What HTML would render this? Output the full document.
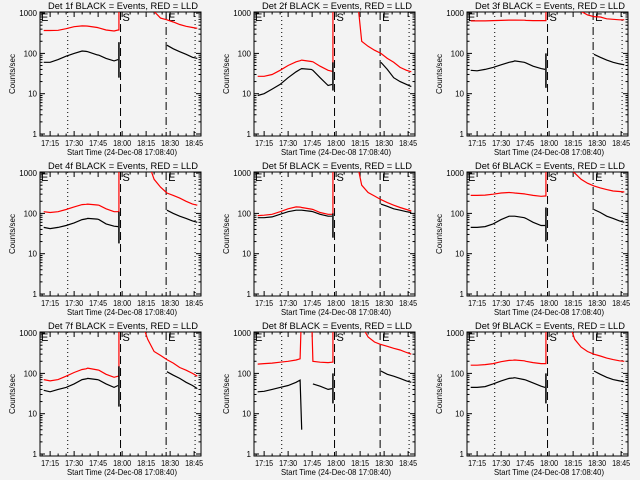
<!DOCTYPE html>
<html><head><meta charset="utf-8"><style>
html,body{margin:0;padding:0;background:#f3f3f3;}
svg{display:block;font-family:"Liberation Sans",sans-serif;}
</style></head><body>
<svg id="chart" width="640" height="480">
<rect width="640" height="480" fill="#f3f3f3"/>
</svg>
<script>
const preTimes=[11,15,20,25,30,35,37.5,38.5,44.5,45.5,50,55,57.5];
const postBlackTimes=[88,92,96,100,104,107];
const postRedTimes=[74,76,80,84,88,92,96,100,104,107];
const detectorNames=["1f","2f","3f","4f","5f","6f","7f","8f","9f"];
const blackPre=[
[60,60,70,85,100,115,112,110,92,90,75,65,70],
[9,10,13,17,25,35,40,42,40,38,25,16,17],
[38,37,40,45,52,60,63,65,60,58,48,42,40],
[45,42,45,50,58,70,73,75,72,70,55,48,47],
[78,78,82,95,110,120,120,120,112,110,95,85,85],
[45,45,47,55,70,85,85,85,78,75,60,50,50],
[38,35,40,45,55,70,73,75,70,68,55,45,50],
[35,36,40,45,50,60,68,4,null,55,48,40,42],
[45,45,47,55,65,75,77,78,70,68,58,48,45]];
const redPre=[
[370,370,375,410,460,480,478,475,440,430,380,360,380],
[27,27,30,38,50,62,66,68,63,62,48,38,36],
[640,640,640,650,660,670,670,670,665,660,650,650,650],
[110,105,110,125,145,165,168,170,162,160,130,110,110],
[88,90,95,110,130,145,143,140,128,125,105,95,95],
[280,280,285,300,320,330,325,320,305,300,280,265,270],
[70,65,70,85,105,125,130,135,122,120,95,80,85],
[170,175,180,190,200,215,230,5000,5000,200,190,185,190],
[160,160,165,175,195,210,212,215,205,200,185,175,175]];
const spikeLo=[25,12,14,18,25,20,15,18,18];
const spikeHi=[190,60,100,110,100,140,150,100,100];
const blackPost=[
[160,130,110,95,80,75],[60,40,25,20,17,15],[95,80,68,60,55,52],
[120,100,85,75,65,60],[170,150,130,120,110,105],[125,105,85,75,65,60],
[110,90,75,60,50,42],[115,95,85,75,65,60],[115,95,80,70,65,62]];
const redPost=[
[3000,3000,1100,750,680,600,520,470,440,420],
[1200,200,150,120,100,75,60,45,38,35],
[3000,3000,1100,900,820,800,720,700,680,680],
[3000,2000,700,450,320,280,240,200,170,160],
[1200,500,330,270,220,185,160,140,125,115],
[1200,1000,700,560,480,430,390,360,350,340],
[1200,700,350,280,220,180,140,120,100,85],
[3000,1500,800,600,520,470,420,380,330,300],
[1200,700,450,350,300,270,240,220,205,200]];
const xTickTimes=[15,30,45,60,75,90,105];
const xTickLabels=["17:15","17:30","17:45","18:00","18:15","18:30","18:45"];
const yTickVals=[1,10,100,1000];
const yTickLabels=["1","10","100","1000"];
const spikeTime=58, dot1=26, dashT=59, eT=87.5, dot2=105.6;

const NS="http://www.w3.org/2000/svg";
const svg=document.getElementById("chart");
const colOff=[0,214,427], rowOff=[0,160,320];
const L=40,R=201,T=12,B=136;
function mk(tag,attrs,parent){const e=document.createElementNS(NS,tag);for(const k in attrs)e.setAttribute(k,attrs[k]);(parent||svg).appendChild(e);return e;}

for(let p=0;p<9;p++){
  const ox=colOff[p%3], oy=rowOff[Math.floor(p/3)];
  const xs=t=>ox+L+(t-8.67)*1.6;
  const ys=v=>oy+134-40.3*Math.log10(v);
  const g=mk("g",{});
  
  
  const cp=mk("clipPath",{id:"c"+p},g);
  mk("rect",{x:ox+L,y:oy+T,width:R-L,height:B-T},cp);
  const title=mk("text",{x:ox+123,y:oy+9,"text-anchor":"middle","font-size":"9.5",textLength:"150",lengthAdjust:"spacingAndGlyphs"},g);
  title.textContent="Det "+detectorNames[p]+" BLACK = Events, RED = LLD";
  
  
  const frame=mk("rect",{x:ox+L,y:oy+T,width:R-L,height:B-T,fill:"none",stroke:"#000","stroke-width":"1"},g);
  
  
  for(let d=0;d<4;d++){
    for(let m=1;m<10;m++){
      const v=yTickVals[d]*m; if(v>1100)break;
      const y=ys(v), len=m==1?5:2.5;
      mk("line",{x1:ox+L,x2:ox+L+len,y1:y,y2:y,stroke:"#000"},g);
      mk("line",{x1:ox+R,x2:ox+R-len,y1:y,y2:y,stroke:"#000"},g);
    }
    const tl=mk("text",{x:ox+L-3,y:ys(yTickVals[d])+3,"text-anchor":"end","font-size":"8"},g);
    tl.textContent=yTickLabels[d];
    
    
  }
  for(let t=10;t<=109;t+=5){
    const major=(t%15===0), x=xs(t), len=major?5:2.5;
    mk("line",{x1:x,x2:x,y1:oy+B,y2:oy+B-len,stroke:"#000"},g);
    mk("line",{x1:x,x2:x,y1:oy+T,y2:oy+T+len,stroke:"#000"},g);
  }
  xTickTimes.forEach((t,i)=>{
    const tl=mk("text",{x:xs(t),y:oy+146,"text-anchor":"middle","font-size":"8",textLength:"18",lengthAdjust:"spacingAndGlyphs"},g);
    tl.textContent=xTickLabels[i];
    
    
  });
  const xt=mk("text",{x:ox+122,y:oy+155,"text-anchor":"middle","font-size":"8.5",textLength:"110",lengthAdjust:"spacingAndGlyphs"},g);
  xt.textContent="Start Time (24-Dec-08 17:08:40)";
  
  
  const yt=mk("text",{x:0,y:0,"text-anchor":"middle","font-size":"8",transform:"translate("+(ox+15)+","+(oy+74)+") rotate(-90)"},g);
  yt.textContent="Counts/sec";
  
  
  const dashed2=(p%3===1);
  [[dot1,"1,3"],[dashT,"8,4"],[eT,dashed2?"8,4":"8,3,1,3"],[dot2,"1,3"]].forEach(([t,da])=>{
    const l=mk("line",{x1:xs(t),x2:xs(t),y1:oy+T,y2:oy+B,stroke:"#000","stroke-dasharray":da},g);
    
    
  });
  [["E",ox+L+1],["S",xs(dashT)+2],["E",xs(eT)+2]].forEach(([s,x])=>{
    const tx=mk("text",{x:x,y:oy+T+9,"font-size":"11"},g);
    tx.textContent=s;
    
    
  });
  const data=mk("g",{"clip-path":"url(#c"+p+")"},g);
  function pathOf(times,vals){
    let d="",pen=false;
    times.forEach((t,i)=>{const v=vals[i];if(v==null){pen=false;return;}
      d+=(pen?"L":"M")+xs(t).toFixed(1)+","+ys(v).toFixed(1);pen=true;});
    return d;
  }
  const rp=mk("path",{d:pathOf(preTimes,redPre[p])+"L"+xs(spikeTime)+","+ys(redPre[p][12])+"L"+xs(spikeTime)+","+ys(5000),fill:"none",stroke:"#ff0000","stroke-width":"1.2"},data);
  
  
  const rq=mk("path",{d:pathOf(postRedTimes,redPost[p]),fill:"none",stroke:"#ff0000","stroke-width":"1.2"},data);
  
  
  const bp=mk("path",{d:pathOf(preTimes,blackPre[p]),fill:"none",stroke:"#000","stroke-width":"1.2"},data);
  
  
  const sp=mk("line",{x1:xs(spikeTime),x2:xs(spikeTime),y1:ys(spikeLo[p]),y2:ys(spikeHi[p]),stroke:"#000","stroke-width":"1.5"},data);
  
  
  const bq=mk("path",{d:pathOf(postBlackTimes,blackPost[p]),fill:"none",stroke:"#000","stroke-width":"1.2"},data);
  
  
}
</script>
</body></html>
